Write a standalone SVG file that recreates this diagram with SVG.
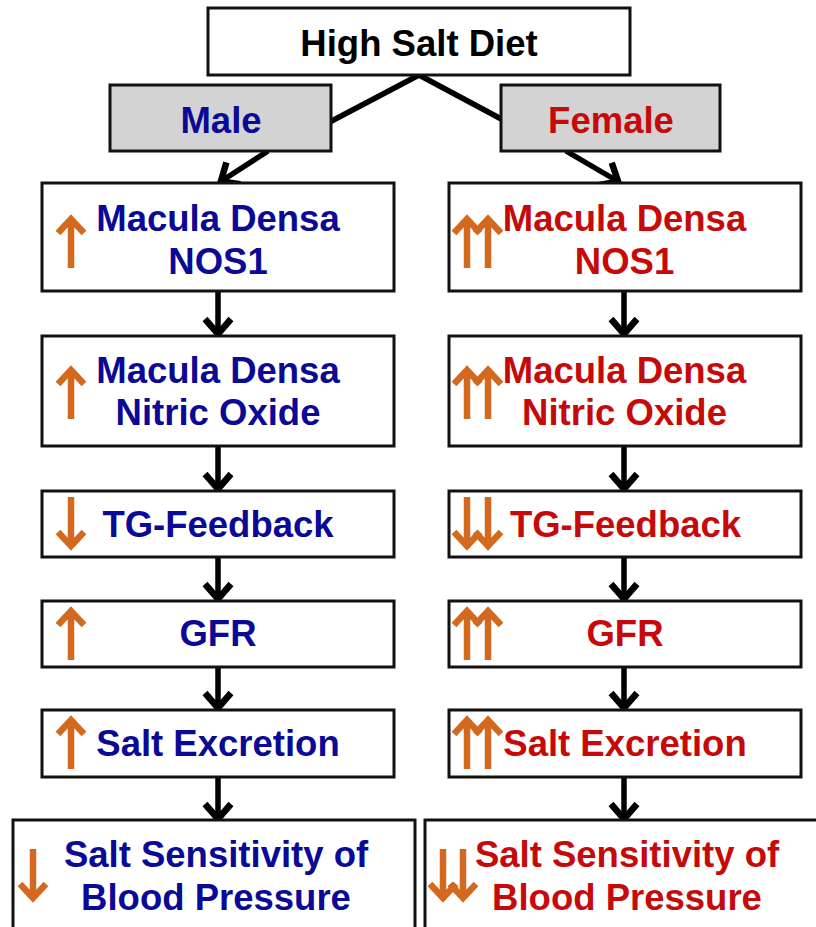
<svg xmlns="http://www.w3.org/2000/svg" xmlns:xlink="http://www.w3.org/1999/xlink" width="816" height="927" viewBox="0 0 816 927">
<style>
.box{fill:#ffffff;stroke:#111111;stroke-width:3}
.sex{fill:#d4d3d3;stroke:#111111;stroke-width:3}
text{font-family:"Liberation Sans",Arial,sans-serif;font-weight:bold;font-size:36.5px;text-anchor:middle}
.blk{fill:#000000}
.m{fill:#0a0a96}
.f{fill:#c60a0a}
.con{stroke:#000000;stroke-width:5.5;fill:none}
.oa{stroke:#d2691e;stroke-width:6.5;fill:none;stroke-linejoin:miter}
</style>
<defs>
<marker id="ah" viewBox="-20 -18 26 36" refX="0" refY="0" markerWidth="26" markerHeight="36" markerUnits="userSpaceOnUse" orient="auto" overflow="visible">
<path d="M-16,-13 L-1,0 L-16,13" stroke="#000000" stroke-width="6.5" fill="none"/>
</marker>
<g id="up"><path class="oa" d="M0,52 V3 M-13,17 L0,3 L13,17"/></g>
</defs>
<rect width="816" height="927" fill="#ffffff"/>
<g id="connectors">
<path class="con" d="M419,75 L326,124"/>
<path class="con" d="M419,75 L505,121"/>
<path class="con" d="M268,151 L220,182" marker-end="url(#ah)"/>
<path class="con" d="M566,151 L619,182" marker-end="url(#ah)"/>
<path class="con" d="M218,291 V335" marker-end="url(#ah)"/>
<path class="con" d="M218,446 V490" marker-end="url(#ah)"/>
<path class="con" d="M218,557 V600" marker-end="url(#ah)"/>
<path class="con" d="M218,667 V709" marker-end="url(#ah)"/>
<path class="con" d="M218,777 V820" marker-end="url(#ah)"/>
<path class="con" d="M624,291 V335" marker-end="url(#ah)"/>
<path class="con" d="M624,446 V490" marker-end="url(#ah)"/>
<path class="con" d="M624,557 V600" marker-end="url(#ah)"/>
<path class="con" d="M624,667 V709" marker-end="url(#ah)"/>
<path class="con" d="M624,777 V820" marker-end="url(#ah)"/>
</g>
<g id="high-salt-diet">
<rect class="box" x="208" y="8" width="422" height="67"/>
<text class="blk" x="419" y="56">High Salt Diet</text>
</g>
<g id="male">
<rect class="sex" x="110" y="85" width="221" height="66"/>
<text class="m" x="221" y="133">Male</text>
</g>
<g id="female">
<rect class="sex" x="501" y="85" width="219" height="66"/>
<text class="f" x="611" y="133">Female</text>
</g>
<g id="m-nos1">
<rect class="box" x="42" y="183" width="352" height="108"/>
<use xlink:href="#up" href="#up" transform="translate(71,216)"/>
<text class="m" x="218" y="231">Macula Densa</text>
<text class="m" x="218" y="274">NOS1</text>
</g>
<g id="m-no">
<rect class="box" x="42" y="336" width="352" height="110"/>
<use xlink:href="#up" href="#up" transform="translate(71,367)"/>
<text class="m" x="218" y="383">Macula Densa</text>
<text class="m" x="218" y="425">Nitric Oxide</text>
</g>
<g id="m-tgf">
<rect class="box" x="42" y="491" width="352" height="66"/>
<use xlink:href="#up" href="#up" transform="translate(71,549) scale(1,-1)"/>
<text class="m" x="218" y="537">TG-Feedback</text>
</g>
<g id="m-gfr">
<rect class="box" x="42" y="601" width="352" height="66"/>
<use xlink:href="#up" href="#up" transform="translate(71,608)"/>
<text class="m" x="218" y="646">GFR</text>
</g>
<g id="m-salt">
<rect class="box" x="42" y="710" width="352" height="67"/>
<use xlink:href="#up" href="#up" transform="translate(71,717)"/>
<text class="m" x="218" y="756">Salt Excretion</text>
</g>
<g id="m-ssbp">
<rect class="box" x="13" y="820" width="402" height="120"/>
<use xlink:href="#up" href="#up" transform="translate(33,901) scale(1,-1)"/>
<text class="m" x="216" y="867">Salt Sensitivity of</text>
<text class="m" x="216" y="910">Blood Pressure</text>
</g>
<g id="f-nos1">
<rect class="box" x="449" y="183" width="352" height="108"/>
<use xlink:href="#up" href="#up" transform="translate(467,216)"/>
<use xlink:href="#up" href="#up" transform="translate(488,216)"/>
<text class="f" x="624.5" y="231">Macula Densa</text>
<text class="f" x="624.5" y="274">NOS1</text>
</g>
<g id="f-no">
<rect class="box" x="449" y="336" width="352" height="110"/>
<use xlink:href="#up" href="#up" transform="translate(467,367)"/>
<use xlink:href="#up" href="#up" transform="translate(488,367)"/>
<text class="f" x="624.5" y="383">Macula Densa</text>
<text class="f" x="624.5" y="425">Nitric Oxide</text>
</g>
<g id="f-tgf">
<rect class="box" x="449" y="491" width="352" height="66"/>
<use xlink:href="#up" href="#up" transform="translate(467,549) scale(1,-1)"/>
<use xlink:href="#up" href="#up" transform="translate(488,549) scale(1,-1)"/>
<text class="f" x="625.5" y="537">TG-Feedback</text>
</g>
<g id="f-gfr">
<rect class="box" x="449" y="601" width="352" height="66"/>
<use xlink:href="#up" href="#up" transform="translate(467,608)"/>
<use xlink:href="#up" href="#up" transform="translate(488,608)"/>
<text class="f" x="625" y="646">GFR</text>
</g>
<g id="f-salt">
<rect class="box" x="449" y="710" width="352" height="67"/>
<use xlink:href="#up" href="#up" transform="translate(467,717)"/>
<use xlink:href="#up" href="#up" transform="translate(488,717)"/>
<text class="f" x="625" y="756">Salt Excretion</text>
</g>
<g id="f-ssbp">
<rect class="box" x="425" y="820" width="410" height="120"/>
<use xlink:href="#up" href="#up" transform="translate(443,901) scale(1,-1)"/>
<use xlink:href="#up" href="#up" transform="translate(463,901) scale(1,-1)"/>
<text class="f" x="627" y="867">Salt Sensitivity of</text>
<text class="f" x="627" y="910">Blood Pressure</text>
</g>
</svg>
